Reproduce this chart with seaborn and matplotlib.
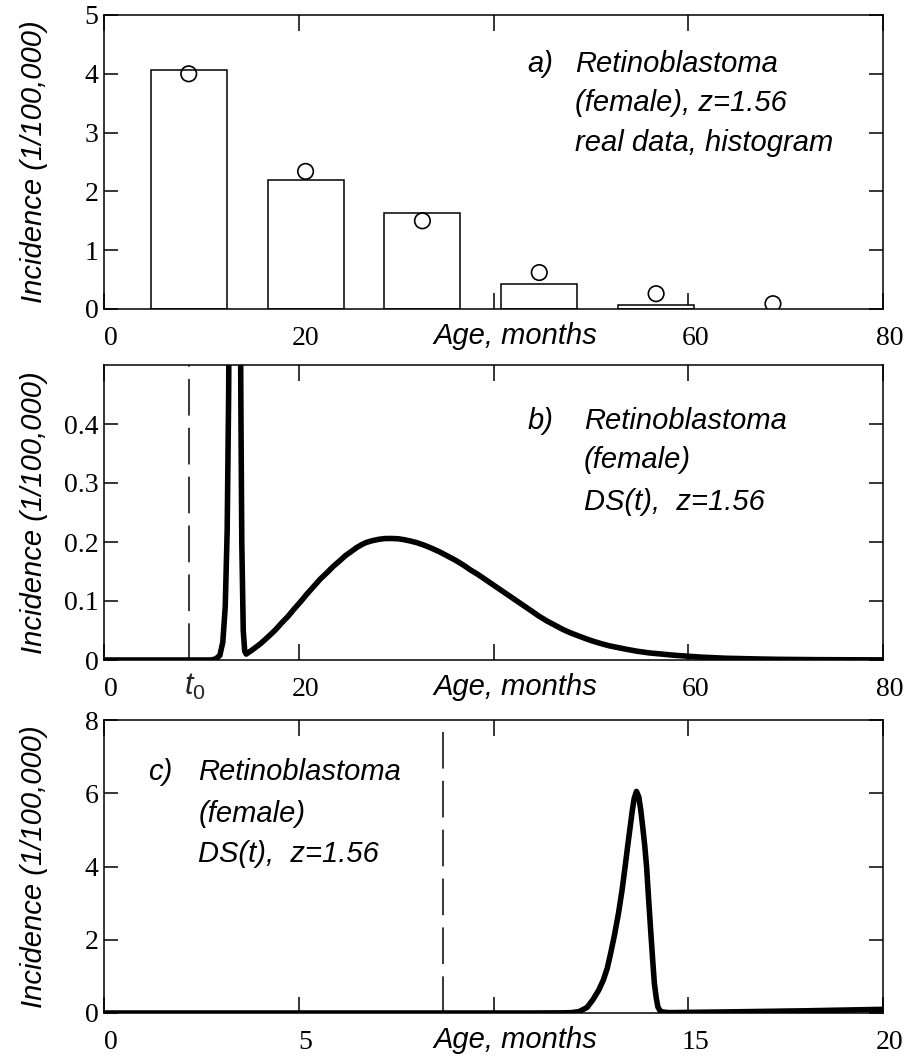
import matplotlib
matplotlib.use("Agg")
import matplotlib.pyplot as plt
import matplotlib.transforms as mtransforms
import seaborn as sns

# ---- Panel a: observed incidence (histogram bars and data points) ----
bin_centers = [8.7, 20.7, 32.7, 44.7, 56.7]
bar_heights = [4.06, 2.19, 1.64, 0.43, 0.065]
point_ages = [8.7, 20.7, 32.7, 44.7, 56.7, 68.7]
point_values = [4.0, 2.34, 1.50, 0.62, 0.26, 0.09]

# ---- Panel b: DS(t) over 0-80 months ----
ds_age = [0, 11.0, 11.5, 11.9, 12.2, 12.45, 12.65, 12.8, 12.95, 13.2, 13.48,
          13.75, 13.95, 14.05, 14.15, 14.3, 14.45,
          14.6, 15.3, 16.1, 16.9, 17.6, 18.2, 18.9, 19.5, 20.2, 20.8, 21.5,
          22.2, 22.9, 23.5, 24.2, 24.8, 25.4, 25.9, 26.4, 26.9, 27.5, 28.2,
          28.8, 29.5, 30.2, 30.8, 31.5, 32.1, 32.9, 33.7, 34.5, 35.3, 36.1,
          36.9, 37.6, 38.4, 39.2, 40.0, 40.8, 41.6, 42.4, 43.2, 44.0, 44.7,
          45.5, 46.3, 47.1, 47.9, 48.7, 49.5, 50.2, 51.0, 51.9, 52.8, 53.7,
          54.7, 56.0, 57.3, 58.6, 59.9, 61.2, 62.5, 63.8, 65.2, 67.0, 69.0,
          71.0, 73.0, 76.0, 80.0]
ds_inc = [0, 0, 0.002, 0.008, 0.03, 0.09, 0.22, 0.45, 0.9, 2.5, 6.0,
          2.5, 0.9, 0.45, 0.2, 0.05, 0.015,
          0.010, 0.018, 0.028, 0.040, 0.051, 0.062, 0.074, 0.086, 0.099, 0.111, 0.124,
          0.137, 0.148, 0.158, 0.168, 0.177, 0.184, 0.190, 0.195, 0.199, 0.202, 0.2045,
          0.2058, 0.206, 0.2055, 0.204, 0.2015, 0.199, 0.1945, 0.189, 0.183, 0.176, 0.169,
          0.161, 0.153, 0.145, 0.136, 0.127, 0.118, 0.109, 0.100, 0.091, 0.082, 0.074,
          0.066, 0.059, 0.052, 0.046, 0.041, 0.036, 0.032, 0.028, 0.024, 0.021, 0.018,
          0.015, 0.012, 0.010, 0.008, 0.0065, 0.005, 0.004, 0.003, 0.0025, 0.0018, 0.0012,
          0.0009, 0.0006, 0.0004, 0.0002]

# ---- Panel c: DS(t) over the first 20 months ----
ds_age_short = [0, 11.0, 11.8, 12.0, 12.2, 12.4, 12.55, 12.7, 12.82, 12.92,
                13.01, 13.11, 13.21, 13.3, 13.38, 13.45, 13.51, 13.56, 13.61,
                13.67, 13.73, 13.78, 13.83, 13.88, 13.93, 13.98, 14.04, 14.09,
                14.13, 14.18, 14.22, 14.27, 14.32, 14.5, 16.0, 18.0, 20.0]
ds_inc_short = [0, 0, 0.004, 0.01, 0.04, 0.15, 0.36, 0.62, 0.9, 1.22,
                1.64, 2.15, 2.73, 3.35, 4.0, 4.6, 5.09, 5.5, 5.85,
                6.05, 5.9, 5.55, 5.09, 4.6, 4.0, 3.15, 2.18, 1.4,
                0.81, 0.4, 0.17, 0.07, 0.03, 0.01, 0.03, 0.06, 0.10]

t0 = 8.7

sns.set_theme(style="ticks")
plt.rcParams.update({
    "font.family": ["Liberation Serif", "DejaVu Serif"],
    "axes.edgecolor": "black",
    "axes.linewidth": 1.1,
    "axes.facecolor": "white",
    "figure.facecolor": "white",
    "mathtext.fontset": "custom",
    "mathtext.it": "Liberation Sans:italic",
    "mathtext.rm": "Liberation Sans",
})

SANS = ["Liberation Sans", "DejaVu Sans"]
TXT = dict(fontfamily=SANS, style="italic", fontsize=21, color="black")
TICKFS = 20

fig = plt.figure(figsize=(9.07, 10.59), dpi=100)
left, width = 104 / 907, 779 / 907
ax_a = fig.add_axes([left, 750 / 1059, width, 294 / 1059])
ax_b = fig.add_axes([left, 399 / 1059, width, 295 / 1059])
ax_c = fig.add_axes([left, 46 / 1059, width, 293 / 1059])


def style_axes(ax, xticks, xlabels, yticks, ylabels, xlab_pos):
    ax.set_xticks(xticks)
    ax.set_xticklabels(xlabels)
    ax.set_yticks(yticks)
    ax.set_yticklabels(ylabels)
    ax.tick_params(axis="x", direction="in", top=True, bottom=True,
                   length=11.5, width=1.1, pad=12, colors="black",
                   labelsize=TICKFS)
    ax.tick_params(axis="y", direction="in", left=True, right=True,
                   length=10, width=1.1, pad=4, colors="black",
                   labelsize=TICKFS)
    for s in ax.spines.values():
        s.set_visible(True)
        s.set_color("black")
        s.set_linewidth(1.1)
    ax.set_ylabel("Incidence (1/100,000)", **TXT)
    ax.yaxis.set_label_coords(-0.072, 0.5)
    ax.set_xlabel("Age, months", **TXT)
    ax.xaxis.label.set_va("baseline")
    ax.xaxis.set_label_coords(xlab_pos, -0.119)
    # numbers sit a little to the right of their tick marks
    shift = mtransforms.ScaledTranslation(7 / 100, 0, fig.dpi_scale_trans)
    for lbl in ax.get_xticklabels():
        lbl.set_transform(lbl.get_transform() + shift)


# ---- Panel a ----
sns.barplot(x=bin_centers, y=bar_heights, native_scale=True, width=7.8 / 12,
            color="white", edgecolor="black", linewidth=1.1, errorbar=None,
            saturation=1, ax=ax_a)
sns.scatterplot(x=point_ages, y=point_values, marker="o", s=125,
                facecolor="none", edgecolor="black", linewidth=1.2,
                ax=ax_a, zorder=3)
ax_a.set_xlim(0, 80)
ax_a.set_ylim(0, 5)
style_axes(ax_a, [0, 20, 40, 60, 80], ["0", "20", "", "60", "80"],
           [0, 1, 2, 3, 4, 5], ["0", "1", "2", "3", "4", "5"], 0.528)
ax_a.text(0.544, 0.806, "a)", transform=ax_a.transAxes, va="baseline", **TXT)
for y, line in zip([0.806, 0.673, 0.537],
                   ["Retinoblastoma", "(female), z=1.56", "real data, histogram"]):
    ax_a.text(0.605, y, line, transform=ax_a.transAxes, va="baseline", **TXT)

# ---- Panel b ----
sns.lineplot(x=ds_age, y=ds_inc, color="black", linewidth=4, estimator=None,
             sort=False, ax=ax_b)
ax_b.axvline(t0, color="black", linewidth=1.1, dashes=(24, 8))
ax_b.set_xlim(0, 80)
ax_b.set_ylim(0, 0.5)
style_axes(ax_b, [0, 20, 40, 60, 80], ["0", "20", "", "60", "80"],
           [0, 0.1, 0.2, 0.3, 0.4], ["0", "0.1", "0.2", "0.3", "0.4"], 0.528)
ax_b.text(t0 - 0.5, -0.119, r"$\mathit{t}_{\mathit{0}}$",
          transform=ax_b.get_xaxis_transform(), ha="left", va="baseline",
          fontsize=22)
ax_b.text(0.544, 0.783, "b)", transform=ax_b.transAxes, va="baseline", **TXT)
for y, line in zip([0.783, 0.651, 0.508],
                   ["Retinoblastoma", "(female)", "DS(t),  z=1.56"]):
    ax_b.text(0.616, y, line, transform=ax_b.transAxes, va="baseline", **TXT)

# ---- Panel c ----
sns.lineplot(x=ds_age_short, y=ds_inc_short, color="black", linewidth=4,
             estimator=None, sort=False, ax=ax_c)
ax_c.axvline(t0, color="black", linewidth=1.1, dashes=(24, 8))
ax_c.set_xlim(0, 20)
ax_c.set_ylim(0, 8)
style_axes(ax_c, [0, 5, 10, 15, 20], ["0", "5", "", "15", "20"],
           [0, 2, 4, 6, 8], ["0", "2", "4", "6", "8"], 0.528)
ax_c.text(0.057, 0.795, "c)", transform=ax_c.transAxes, va="baseline", **TXT)
for y, line in zip([0.795, 0.653, 0.516],
                   ["Retinoblastoma", "(female)", "DS(t),  z=1.56"]):
    ax_c.text(0.121, y, line, transform=ax_c.transAxes, va="baseline", **TXT)

fig.savefig("out.png", dpi=100)
